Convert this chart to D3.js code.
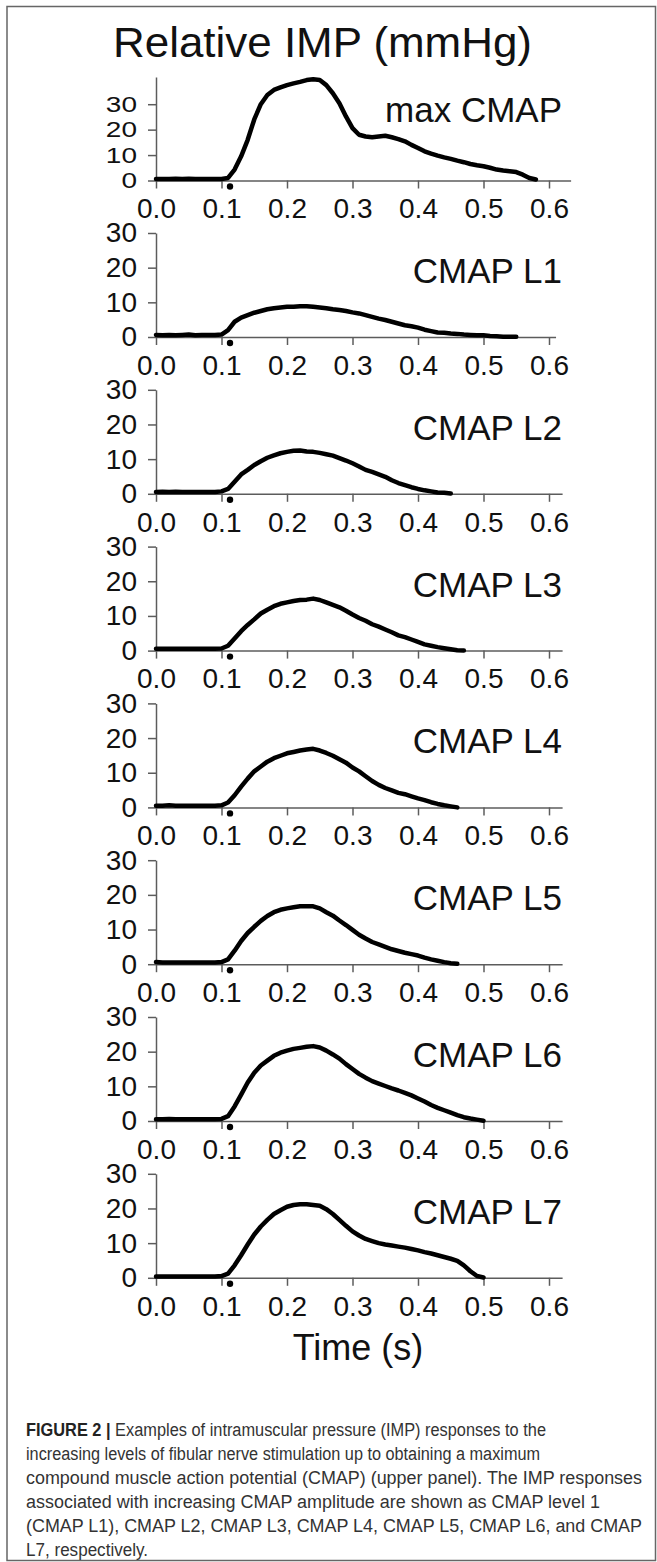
<!DOCTYPE html>
<html><head><meta charset="utf-8">
<script src="https://cdn.jsdelivr.net/npm/d3@7/dist/d3.min.js"></script>
<style>body{margin:0;background:#fff}svg{display:block}</style>
</head><body>
<svg id="chart" width="657" height="1562"></svg>
<script>
// ---------- data ----------
const timeGrid = [0.00,0.01,0.02,0.03,0.04,0.05,0.06,0.07,0.08,0.09,0.10,0.11,0.12,0.13,0.14,0.15,0.16,0.17,0.18,0.19,0.20,
  0.21,0.22,0.23,0.24,0.25,0.26,0.27,0.28,0.29,0.30,0.31,0.32,0.33,0.34,0.35,0.36,0.37,0.38,0.39,0.40,
  0.41,0.42,0.43,0.44,0.45,0.46,0.47,0.48,0.49,0.50,0.51,0.52,0.53,0.54,0.55,0.56,0.57,0.58,0.59,0.60];

const panelNames = ["max CMAP","CMAP L1","CMAP L2","CMAP L3","CMAP L4","CMAP L5","CMAP L6","CMAP L7"];

const maxCMAP = [0.6,0.6,0.6,0.7,0.6,0.7,0.6,0.6,0.6,0.6,0.6,1.0,4.3,9.5,16,24,30,33.6,35.6,36.6,37.5,
  38.2,38.8,39.5,39.8,39.5,37.5,34.3,30.4,25.2,20.6,18,17.3,17,17.3,17.6,17,16.3,15.4,14,12.8,
  11.5,10.6,9.8,9.1,8.5,7.8,7.2,6.5,6.0,5.6,5.0,4.3,3.9,3.6,3.3,2.3,1.0,0.4];
const cmapL1 = [0.6,0.5,0.6,0.5,0.6,0.7,0.5,0.6,0.6,0.6,0.7,2.0,4.4,5.6,6.3,7.0,7.5,8.0,8.3,8.5,8.7,
  8.7,8.9,8.9,8.7,8.5,8.3,8.0,7.8,7.5,7.1,6.8,6.3,5.8,5.3,4.9,4.4,3.9,3.4,3.1,2.7,
  2.1,1.7,1.3,1.2,1.0,0.9,0.7,0.6,0.5,0.5,0.3,0.2,0.1,0.1,0.1];
const cmapL2 = [0.5,0.6,0.5,0.6,0.5,0.5,0.5,0.5,0.5,0.5,0.7,1.4,3.5,5.6,6.9,8.3,9.4,10.4,11.1,11.7,12.1,
  12.4,12.5,12.2,12.1,11.8,11.4,11.0,10.3,9.6,8.8,7.9,6.9,6.3,5.6,4.9,3.9,3.1,2.5,1.9,1.4,
  1.0,0.7,0.4,0.3,0.1];
const cmapL3 = [0.5,0.5,0.5,0.5,0.5,0.5,0.5,0.5,0.5,0.5,0.6,1.4,3.5,5.6,7.4,9.0,10.7,11.8,12.8,13.5,13.9,
  14.3,14.6,14.7,15.0,14.6,13.9,13.2,12.5,11.5,10.4,9.4,8.6,7.6,6.9,6.1,5.3,4.4,3.9,3.2,2.5,
  1.8,1.4,1.0,0.7,0.4,0.1,0.0];
const cmapL4 = [0.5,0.5,0.6,0.5,0.5,0.5,0.5,0.5,0.5,0.5,0.6,1.4,3.5,6.0,8.3,10.4,11.8,13.2,14.2,14.9,15.6,
  16.0,16.4,16.7,16.9,16.4,15.7,14.9,13.9,12.9,11.5,10.4,9.0,7.6,6.5,5.6,4.9,4.2,3.8,3.2,2.6,
  2.1,1.5,1.0,0.6,0.3,0.0];
const cmapL5 = [0.6,0.5,0.5,0.5,0.5,0.5,0.5,0.5,0.5,0.5,0.6,1.4,3.9,6.7,9.0,10.8,12.5,13.9,15.0,15.7,16.1,
  16.4,16.7,16.7,16.7,16.1,15.0,14.0,12.6,11.3,9.9,8.5,7.4,6.4,5.7,5.0,4.3,3.8,3.3,2.9,2.5,
  1.9,1.4,1.0,0.6,0.3,0.1];
const cmapL6 = [0.5,0.5,0.6,0.5,0.5,0.5,0.5,0.5,0.5,0.5,0.6,1.4,4.2,7.6,11.1,13.9,16.0,17.4,18.8,19.7,20.3,
  20.8,21.1,21.4,21.6,21.2,20.3,19.2,18.0,16.4,15.0,13.6,12.5,11.5,10.8,10.1,9.4,8.8,8.1,7.4,6.5,
  5.6,4.6,3.8,3.1,2.4,1.7,1.1,0.7,0.4,0.1];
const cmapL7 = [0.4,0.4,0.4,0.4,0.4,0.4,0.4,0.4,0.4,0.4,0.5,1.2,3.6,6.5,9.6,12.5,14.8,16.7,18.4,19.5,20.5,
  21.0,21.2,21.2,21.0,20.8,19.8,18.4,16.7,15.0,13.4,12.2,11.2,10.6,10.0,9.6,9.3,9.0,8.7,8.3,7.9,
  7.4,7.0,6.5,6.0,5.5,4.9,3.6,1.9,0.5,0.1];

const seriesList = [maxCMAP,cmapL1,cmapL2,cmapL3,cmapL4,cmapL5,cmapL6,cmapL7];
const yMaxes = [40.7,30,30,30,30,30,30,30];
const xEnds = [0.633,0.61,0.62,0.62,0.62,0.62,0.62,0.62];
const xTicks = [0.0,0.1,0.2,0.3,0.4,0.5,0.6];
const yTicks = [0,10,20,30];
const stimTime = 0.113;

const titleText = "Relative IMP (mmHg)";
const xTitle = "Time (s)";
const captionBold = "FIGURE 2 |";
const captionLines = [
  " Examples of intramuscular pressure (IMP) responses to the",
  "increasing levels of fibular nerve stimulation up to obtaining a maximum",
  "compound muscle action potential (CMAP) (upper panel). The IMP responses",
  "associated with increasing CMAP amplitude are shown as CMAP level 1",
  "(CMAP L1), CMAP L2, CMAP L3, CMAP L4, CMAP L5, CMAP L6, and CMAP",
  "L7, respectively."
];

// ---------- layout ----------
const FONT = "'Liberation Sans', Arial, Helvetica, sans-serif";
const svg = d3.select("#chart");
const xLeft = 156, pxPerSec = 655;
const zeros = [180.5, 337, 493.8, 650.6, 807.4, 964.2, 1121, 1277.8];
const axisColor = "#5c5c5c";

// frame
svg.append("rect").attr("x",7).attr("y",6.5).attr("width",648.5).attr("height",1554)
  .attr("fill","none").attr("stroke","#666").attr("stroke-width",1.5);

svg.append("text").attr("x",113).attr("y",57).attr("font-family",FONT).attr("font-size",42)
  .attr("textLength",419).attr("lengthAdjust","spacingAndGlyphs").attr("fill","#111").text(titleText);

seriesList.forEach((vals,i)=>{
  const y0 = zeros[i];
  const yTop = i===0 ? 77 : y0-104;
  const x = d3.scaleLinear().domain([0,xEnds[i]]).range([xLeft, xLeft+xEnds[i]*pxPerSec]);
  const y = d3.scaleLinear().domain([0,yMaxes[i]]).range([y0, yTop]);
  const g = svg.append("g");

  const xa = g.append("g").attr("transform",`translate(0,${y0})`)
    .call(d3.axisBottom(x).tickValues(xTicks).tickSize(8).tickSizeOuter(0).tickPadding(10).tickFormat(d3.format(".1f")));
  const ya = g.append("g").attr("transform",`translate(${xLeft},0)`)
    .call(d3.axisLeft(y).tickValues(yTicks).tickSize(8).tickSizeOuter(0).tickPadding(11).tickFormat(d3.format("d")));
  [xa,ya].forEach(a=>{
    a.selectAll("path,line").attr("stroke",axisColor).attr("stroke-width",1.5);
    a.selectAll("text").attr("font-family",FONT).attr("font-size",28).attr("fill","#111");
  });
  if(i===0){
    // the top panel's y labels are vertically squeezed in the original
    ya.selectAll("text").attr("transform","scale(1,0.8)");
  }

  const pts = vals.map((v,j)=>[timeGrid[j],v]);
  g.append("path").datum(pts)
    .attr("d", d3.line().x(d=>x(d[0])).y(d=>y(d[1])))
    .attr("fill","none").attr("stroke","#000").attr("stroke-width",4.5)
    .attr("stroke-linejoin","round").attr("stroke-linecap","round");

  g.append("circle").attr("cx",x(stimTime)).attr("cy",y0+6).attr("r",3.2).attr("fill","#000");

  g.append("text").attr("x",562).attr("y", i===0 ? y0-59 : y0-54)
    .attr("text-anchor","end").attr("font-family",FONT).attr("font-size",35).attr("fill","#111")
    .text(panelNames[i]);
});

svg.append("text").attr("x",358).attr("y",1360).attr("text-anchor","middle")
  .attr("font-family",FONT).attr("font-size",36).attr("fill","#111").text(xTitle);

// caption
const capEnds = [546,540,642,600,642,148];
const capTop = 1436, capStep = 24;
captionLines.forEach((line,i)=>{
  const t = svg.append("text").attr("x",26).attr("y",capTop+i*capStep)
    .attr("font-family",FONT).attr("font-size",18).attr("fill","#333")
    .attr("textLength",capEnds[i]-26).attr("lengthAdjust","spacingAndGlyphs");
  if(i===0){
    t.append("tspan").attr("font-weight","bold").attr("fill","#222").text(captionBold);
  }
  t.append("tspan").text(line);
});
</script>
</body></html>
